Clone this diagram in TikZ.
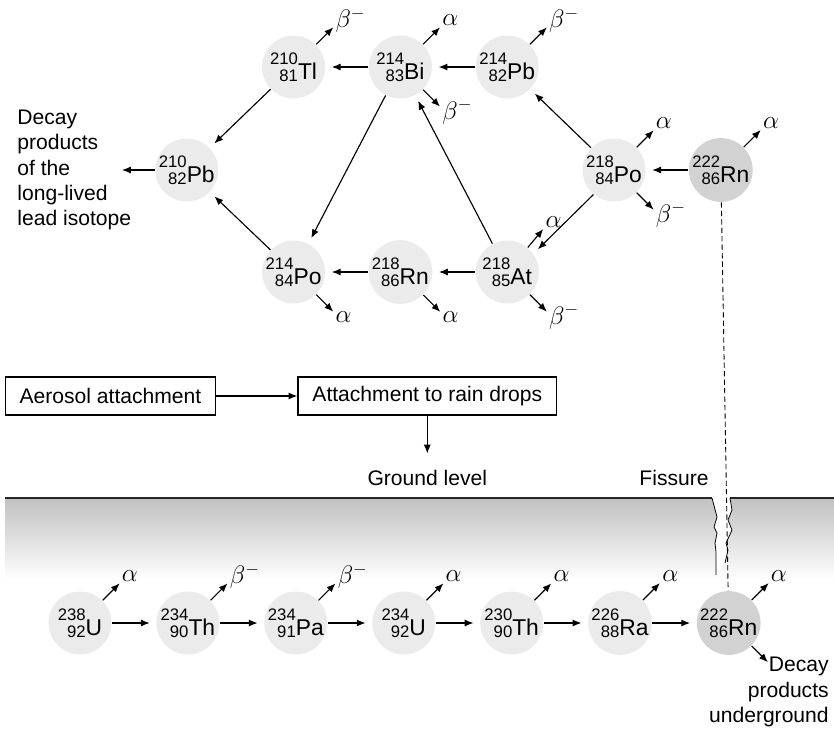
\documentclass[tikz,border=0pt]{standalone}
\usepackage{fontspec}
\setmainfont{Liberation Sans}
\usetikzlibrary{arrows.meta,positioning}

\newcommand{\nuclide}[3]{\raisebox{-1pt}{\fontsize{9.5}{9.5}\selectfont\shortstack[r]{#1\\#2}}#3}

\begin{document}
\begin{tikzpicture}[>={Latex[length=5pt,width=4pt]}, x=0.02cm, y=-0.02cm,
    node distance=0.876cm, font=\fontsize{12}{14.4}\selectfont, line width=0.65pt]
    \tikzstyle{nuc}=[circle,fill=gray!16,minimum size=1.26cm,inner sep=0pt,font=\fontsize{13}{15}\selectfont]
    \tikzstyle{rn}=[nuc,fill=gray!35]
    \tikzstyle{chain}=[->,shorten >=3.5pt]
    \tikzstyle{emit}=[->]
    \tikzstyle{up}=[anchor=west,inner sep=1pt,yshift=4pt,font=\fontsize{14}{16}\selectfont]
    \tikzstyle{dn}=[anchor=west,inner sep=1pt,yshift=-3pt,font=\fontsize{14}{16}\selectfont]
    \tikzstyle{box}=[draw,minimum height=0.76cm,inner xsep=0.29cm]

    \useasboundingbox (0,0) rectangle (834,730);

    % soil and fissure
    \shade[top color=gray!48,bottom color=white] (5,499) rectangle (834,580);
    \fill[white] (712,498) -- (717,517) -- (714,527) -- (717,533) -- (715,543) -- (716,552) -- (716,575)
        -- (725,563) -- (728,550) -- (726,543) -- (732,530) -- (728,520) -- (732,510) -- (730,498) -- cycle;
    \draw[line width=1.6pt,draw=black!85] (5,498) -- (712,498) (730,498) -- (834,498);
    \draw[line width=0.45pt] (712,498) -- (717,517) -- (714,527) -- (717,533) -- (715,543) -- (716,552) -- (716,575);
    \draw[line width=0.45pt] (730,498) -- (732,510) -- (728,520) -- (732,530) -- (726,543) -- (728,550) -- (725,563);

    % radon decay in air
    \node[nuc] (tl210) at (293.6,67) {\nuclide{210}{81}{Tl}};
    \node[nuc] (bi214) at (400.4,67) {\nuclide{214}{83}{Bi}};
    \node[nuc] (pb214) at (507.2,67) {\nuclide{214}{82}{Pb}};
    \node[nuc] (pb210) at (186.8,170) {\nuclide{210}{82}{Pb}};
    \node[nuc] (po218) at (614,170) {\nuclide{218}{84}{Po}};
    \node[rn] (rn222a) at (720.8,170) {\nuclide{222}{86}{Rn}};
    \node[nuc] (po214) at (293.6,272) {\nuclide{214}{84}{Po}};
    \node[nuc] (rn218) at (400.4,272) {\nuclide{218}{86}{Rn}};
    \node[nuc] (at218) at (507.2,272) {\nuclide{218}{85}{At}};

    \node[align=left,anchor=west] (lead) at (11,170) {Decay\\products\\of the\\long-lived\\lead isotope};
    \coordinate (leadin) at (122,170);

    \draw[chain] (rn222a) -- (po218);
    \draw[chain] (po218) -- (pb214);
    \draw[chain] (po218.230) -- (at218.35);
    \draw[chain] (pb214) -- (bi214);
    \draw[chain] (bi214) -- (tl210);
    \draw[chain] (at218) -- (bi214);
    \draw[chain] (bi214) -- (po214);
    \draw[chain] (at218) -- (rn218);
    \draw[chain] (rn218) -- (po214);
    \draw[chain] (tl210) -- (pb210);
    \draw[chain] (po214) -- (pb210);
    \draw[->] (pb210) -- (leadin);

    \draw[emit] (tl210.45) -- ++(45:0.48cm) node[up] {$\beta^-$};
    \draw[emit] (bi214.45) -- ++(45:0.48cm) node[up] {$\alpha$};
    \draw[emit] (bi214.-45) -- ++(-45:0.48cm) node[dn] {$\beta^-$};
    \draw[emit] (pb214.45) -- ++(45:0.48cm) node[up] {$\beta^-$};
    \draw[emit] (po218.45) -- ++(45:0.48cm) node[up] {$\alpha$};
    \draw[emit] (po218.-45) -- ++(-45:0.48cm) node[dn] {$\beta^-$};
    \draw[emit] (rn222a.45) -- ++(45:0.48cm) node[up] {$\alpha$};
    \draw[emit] (at218.50) -- ++(50:0.48cm) node[up] {$\alpha$};
    \draw[emit] (at218.-45) -- ++(-45:0.48cm) node[dn] {$\beta^-$};
    \draw[emit] (rn218.-45) -- ++(-45:0.48cm) node[dn] {$\alpha$};
    \draw[emit] (po214.-45) -- ++(-45:0.48cm) node[dn] {$\alpha$};

    % transport
    \node[box] (aerosol) at (110.5,396) {Aerosol attachment};
    \node[box,right=1.62cm of aerosol] (rain) {Attachment to rain drops};
    \node[below=0.97cm of rain] (ground) {Ground level};
    \node[anchor=east] (fissure) at (715,478) {Fissure};
    \draw[->] (aerosol) -- (rain);
    \draw[->,shorten >=6pt] (rain) -- (ground);

    % uranium series underground
    \node[nuc] (u238) at (80,623) {\nuclide{238}{92}{U}};
    \node[nuc,right=of u238] (th234) {\nuclide{234}{90}{Th}};
    \node[nuc,right=of th234] (pa234) {\nuclide{234}{91}{Pa}};
    \node[nuc,right=of pa234] (u234) {\nuclide{234}{92}{U}};
    \node[nuc,right=of u234] (th230) {\nuclide{230}{90}{Th}};
    \node[nuc,right=of th230] (ra226) {\nuclide{226}{88}{Ra}};
    \node[rn,right=of ra226] (rn222b) {\nuclide{222}{86}{Rn}};

    \node[align=right,anchor=east,inner sep=1pt] (under) at (831,692) {Decay\\products\\underground};

    \draw[chain] (u238) -- (th234);
    \draw[chain] (th234) -- (pa234);
    \draw[chain] (pa234) -- (u234);
    \draw[chain] (u234) -- (th230);
    \draw[chain] (th230) -- (ra226);
    \draw[chain] (ra226) -- (rn222b);

    \draw[emit] (u238.45) -- ++(45:0.48cm) node[up] {$\alpha$};
    \draw[emit] (th234.45) -- ++(45:0.48cm) node[up] {$\beta^-$};
    \draw[emit] (pa234.45) -- ++(45:0.48cm) node[up] {$\beta^-$};
    \draw[emit] (u234.45) -- ++(45:0.48cm) node[up] {$\alpha$};
    \draw[emit] (th230.45) -- ++(45:0.48cm) node[up] {$\alpha$};
    \draw[emit] (ra226.45) -- ++(45:0.48cm) node[up] {$\alpha$};
    \draw[emit] (rn222b.45) -- ++(45:0.48cm) node[up] {$\alpha$};
    \draw[emit] (rn222b.-45) -- ++(-45:0.46cm) coordinate (underin);

    % radon escaping through the fissure
    \draw[line width=0.5pt,dash pattern=on 3pt off 1.8pt] (rn222a) -- (rn222b);
\end{tikzpicture}
\end{document}
